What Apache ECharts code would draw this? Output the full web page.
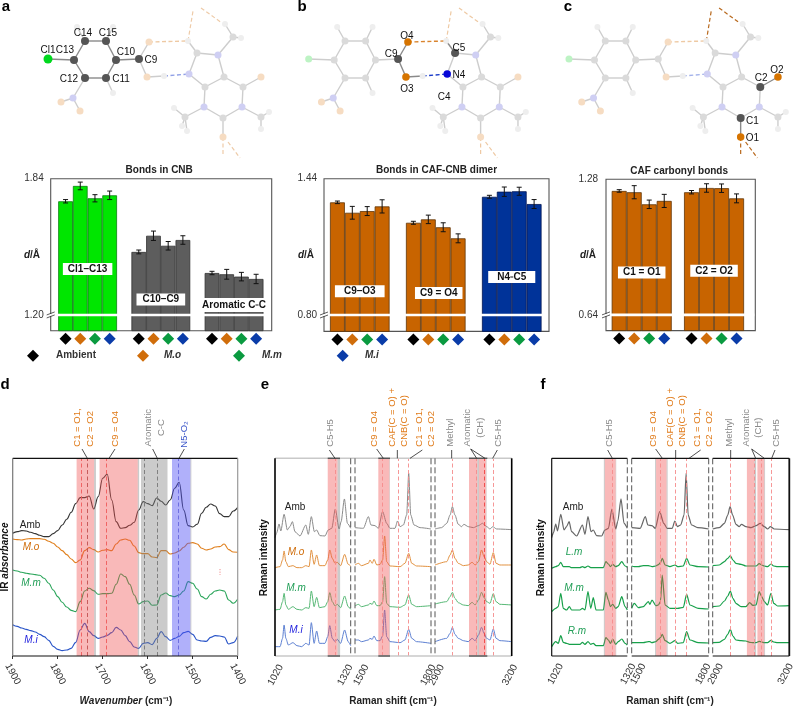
<!DOCTYPE html>
<html><head><meta charset="utf-8">
<style>html,body{margin:0;padding:0;background:#fff}#c{width:794px;height:707px}</style>
<script src="https://cdn.jsdelivr.net/npm/echarts@6/dist/echarts.min.js"></script>
</head><body><div id="c"></div>
<script>
// ---------- bar data (bond length, Å) ----------
const samples = ['Ambient','M.o','M.m','M.i'];
const cl1c13 = [1.734,1.806,1.748,1.762], cl1c13Err = [.008,.018,.017,.020];
const c10c9  = [1.496,1.572,1.525,1.552], c10c9Err  = [.009,.022,.020,.020];
const aroCC  = [1.397,1.391,1.380,1.369], aroCCErr  = [.008,.023,.020,.022];
const c9o3   = [1.329,1.280,1.288,1.310], c9o3Err   = [.006,.030,.021,.031];
const c9o4   = [1.233,1.249,1.212,1.160], c9o4Err   = [.007,.020,.021,.021];
const n4c5   = [1.355,1.379,1.381,1.321], n4c5Err   = [.007,.022,.019,.021];
const c1o1   = [1.225,1.219,1.162,1.178], c1o1Err   = [.006,.031,.020,.031];
const c2o2   = [1.219,1.239,1.238,1.190], c2o2Err   = [.008,.020,.020,.021];

// ---------- IR (panel d): wavenumber 1900..1400 in steps of 10 ----------
const irAmb = [368,373,376,375,371,367,362,358,358,367,376,393,410,431,457,475,475,480,441,478,533,545,468,403,383,385,392,401,438,463,457,451,474,464,453,468,503,521,438,391,387,395,428,446,456,450,427,418,418,435,446];
const irMo  = [351,349,348,351,352,352,352,350,344,338,327,316,304,291,280,288,316,325,319,312,317,319,316,336,348,351,347,330,310,307,307,297,295,316,316,306,309,315,326,338,340,336,323,318,321,327,328,336,319,312,311];
const irMm  = [258,255,251,248,246,244,242,233,218,198,178,161,147,137,133,163,195,203,196,185,187,187,188,215,246,238,215,183,156,163,165,152,153,183,189,181,178,183,195,223,218,201,178,171,185,195,198,195,168,158,171];
const irMi  = [94,89,84,80,76,72,65,58,47,29,20,16,18,23,41,78,98,73,61,53,57,62,70,86,78,61,43,27,23,38,40,34,53,73,58,47,53,59,70,74,65,48,45,44,56,61,60,57,36,40,60];

// ---------- Raman: shift positions and intensities ----------
const ambX1 = [1020,1027,1036,1043,1056,1069,1079,1089,1099,1119,1142,1152,1164,1176,1185,1198,1218,1231,1245,1259,1274,1282,1295,1307,1320];
const ambY1 = [355,370,396,375,425,378,388,403,373,360,393,365,418,373,378,361,360,378,383,441,381,403,471,398,383];
const ambX2 = [1500,1533,1553,1563,1579,1592,1609,1625,1638,1658,1668,1678,1691,1704,1712,1720,1733,1757,1800];
const ambY2 = [385,383,418,393,391,383,433,398,383,383,405,388,393,423,548,423,393,385,381];
const ambX3 = [2900,2926,2946,2959,2968,2978,2991,3004,3013,3030,3050,3070,3086,3102,3115,3126,3141,3200];
const ambY3 = [381,385,398,423,448,423,395,388,395,388,385,391,398,388,381,388,381,379];

const eX1 = [1020,1040,1050,1056,1063,1073,1091,1107,1126,1142,1155,1164,1175,1185,1196,1218,1229,1237,1247,1258,1267,1280,1296,1310,1320];
const eMo1 = [265,268,288,315,283,268,271,265,265,271,268,318,275,303,271,271,288,318,293,278,281,271,305,275,270];
const eMm1 = [138,140,163,188,153,140,148,140,138,145,143,195,148,176,145,148,163,190,163,150,155,145,180,148,140];
const eMi1 = [28,28,53,93,53,33,40,31,28,38,33,100,38,75,38,38,58,91,53,43,50,38,78,43,31];
const eX2 = [1500,1513,1526,1553,1559,1568,1575,1586,1599,1609,1617,1625,1638,1678,1697,1712,1724,1743,1800];
const eMo2 = [273,278,271,278,288,278,290,273,275,288,360,283,270,268,278,308,278,270,268];
const eMm2 = [150,155,148,153,158,155,165,151,151,163,238,158,148,146,153,183,155,148,151];
const eMi2 = [48,48,43,48,53,50,60,46,46,60,138,58,43,40,48,80,53,43,38];
const eX3 = [2900,2946,2959,2968,2978,2991,3011,3030,3045,3057,3070,3082,3092,3102,3115,3128,3139,3154,3200];
const eMo3 = [273,283,303,318,293,278,271,273,281,273,283,318,298,283,275,310,278,273,273];
const eMm3 = [156,163,178,191,173,160,153,151,161,153,168,191,175,163,158,187,163,155,153];
const eMi3 = [43,53,68,86,65,53,46,43,53,46,63,86,68,53,48,81,53,46,43];

const fX1 = [1020,1036,1046,1056,1066,1079,1090,1099,1132,1142,1152,1164,1175,1185,1196,1225,1235,1245,1253,1262,1274,1284,1298,1311,1320];
const fLm1 = [263,268,271,281,268,268,268,265,265,268,265,270,265,265,265,265,283,276,268,275,268,271,283,270,266];
const fMm1 = [133,143,148,188,143,138,148,138,138,143,138,193,143,175,138,138,191,168,148,155,143,148,178,148,138];
const fRm1 = [28,43,38,61,41,38,35,35,35,41,35,43,35,38,31,31,55,48,38,51,35,43,51,38,33];
const fX2 = [1500,1510,1526,1545,1565,1571,1579,1594,1604,1612,1619,1630,1649,1669,1679,1701,1714,1727,1760,1800];
const fLm2 = [270,268,268,271,271,270,268,270,274,280,293,273,268,273,268,270,293,273,268,267];
const fMm2 = [143,158,145,148,163,155,168,151,153,163,243,153,143,143,143,146,185,153,143,141];
const fRm2 = [40,40,40,40,43,43,40,43,50,55,65,46,38,46,38,40,73,48,40,39];
const fX3 = [2900,2926,2946,2959,2969,2979,2991,3011,3030,3045,3057,3070,3082,3092,3102,3115,3128,3139,3154,3200];
const fLm3 = [271,273,283,293,301,288,278,275,270,270,270,270,277,273,270,268,276,270,268,268];
const fMm3 = [148,150,165,180,195,173,158,148,148,160,152,153,193,178,163,153,188,158,150,151];
const fRm3 = [40,41,50,65,80,60,48,46,45,41,40,40,44,42,40,40,47,42,40,40];

// ---------- molecule (local drawing units) ----------
const atoms = {
 Cl1:[48,59,'Cl'],C13:[74,60,'C'],C14:[85,41,'C'],C15:[106,41,'C'],C10:[116,60,'C'],C11:[106,78,'C'],C12:[85,78,'C'],
 H14:[77,27,'H'],H15:[113,27,'H'],H11:[113,93,'H'],Nn:[73,98,'N'],On1:[61,102,'O'],On2:[80,111,'O'],
 C9:[139,59,'C'],O4:[149,42,'O'],O3:[147,77,'O'],H3:[164,76,'H'],
 C5:[197,53,'C'],H5:[188,41,'H'],N7:[218,55,'N'],C8:[224,77,'C'],N4:[189,74,'N'],C4:[205,87,'C'],C2:[243,87,'C'],O2:[261,77,'O'],
 N3:[204,107,'N'],N1:[242,107,'N'],C1:[223,118,'C'],O1:[223,137,'O'],
 Me1:[233,37,'C'],H1a:[225,24,'H'],H1b:[241,38,'H'],Me2:[185,117,'C'],H2a:[174,108,'H'],H2b:[182,126,'H'],H2c:[187,131,'H'],
 Me3:[261,117,'C'],H3a:[269,112,'H'],H3b:[261,129,'H']
};
const bonds = ['Cl1-C13','C13-C14','C14-C15','C15-C10','C10-C11','C11-C12','C12-C13','C14-H14','C15-H15','C11-H11','C12-Nn','Nn-On1','Nn-On2','C10-C9','C9-O4','C9-O3','O3-H3',
 'C5-H5','C5-N7','N7-C8','C8-C4','C4-N4','N4-C5','C8-C2','C2-O2','C2-N1','N1-C1','C1-N3','N3-C4','C1-O1','N7-Me1','Me1-H1a','Me1-H1b','N3-Me2','Me2-H2a','Me2-H2b','Me2-H2c','N1-Me3','Me3-H3a','Me3-H3b'];
const tailTop = [[188,41,193,11],[201,8,222,23]];
const tailBottom = [[223,137,223,156],[228,142,240,158]];
const panelsMol = {
 a:{lit:['Cl1','C13','C14','C15','C10','C11','C12','C9'],
    litBonds:['C13-C14','C14-C15','C15-C10','C10-C11','C11-C12','C12-C13','C10-C9','Cl1-C13'],
    labels:[['Cl1',48,50],['C13',65,50],['C14',83,33],['C15',108,33],['C10',126,52],['C9',151,60],['C12',69,79],['C11',121,79]],
    hb:'#eec9a3',hn:'#8f9fe6',tail:'#eecba8'},
 b:{lit:['C9','O3','O4','N4','C5'],
    litBonds:['C9-O3','C9-O4','C5-N4','O3-H3','C5-H5'],
    labels:[['O4',148,36],['C9',132,54],['C5',201,48],['N4',201,75],['O3',148,89],['C4',186,97]],
    hb:'#d9842e',hn:'#1638c8',tail:'#eec9a3'},
 c:{lit:['C1','O1','C2','O2'],litBonds:['C1-O1','C2-O2'],
    labels:[['O2',260,70],['C2',244,78],['C1',235,121],['O1',235,138]],
    hb:'#eec9a3',hn:'#a3b2ea',tail:'#b8691d'}
};
const litColor = {C:'#555',O:'#d67400',N:'#0808d8',Cl:'#00d81e',H:'#cfcfcf'};
const dimColor = {C:'#dadada',O:'#f6dcc2',N:'#cfcff3',Cl:'#bdf3c4',H:'#eeeeee'};

// ---------- helpers ----------
const FONT = '"Liberation Sans",Arial,sans-serif';
const COL = {amb:'#000',o:'#d06d0a',m:'#0a9a40',i:'#0a3ca8'};
const DIA = [COL.amb,COL.o,COL.m,COL.i];
const grids=[],xAxes=[],yAxes=[],series=[],graphics=[],titles=[];
function addGrid(g,x,y){grids.push(g);x.gridIndex=grids.length-1;y.gridIndex=grids.length-1;xAxes.push(x);yAxes.push(y);return grids.length-1;}
const seriesRef=i=>({xAxisIndex:i,yAxisIndex:i});
const CLEAR='rgba(0,0,0,0)';

// molecules
function drawMolecule(key,left,scale){
 const p=panelsMol[key];
 const i=addGrid({left,top:0,width:270*scale,height:160,containLabel:false},
   {type:'value',min:0,max:270,show:false},{type:'value',min:0,max:160,inverse:true,show:false});
 const bondData=bonds.map(b=>{const [u,v]=b.split('-');return [atoms[u][0],atoms[u][1],atoms[v][0],atoms[v][1],p.litBonds.includes(b)?1:0];});
 series.push({type:'custom',...seriesRef(i),silent:true,clip:false,z:2,data:bondData,renderItem:(_,api)=>{
   const a=api.coord([api.value(0),api.value(1)]),b=api.coord([api.value(2),api.value(3)]);
   return {type:'line',shape:{x1:a[0],y1:a[1],x2:b[0],y2:b[1]},style:{stroke:api.value(4)?'#8a8a8a':'#cdcdcd',lineWidth:1.4}};
 }});
 const dashed=[[...tailTop[0],p.tail,1.2],[...tailTop[1],p.tail,1.2],[...tailBottom[0],p.tail,1.2],[...tailBottom[1],p.tail,1.2],
   [149,42,188,41,p.hb,1.4],[164,76,189,74,p.hn,1.4]];
 series.push({type:'custom',...seriesRef(i),silent:true,clip:false,z:2,data:dashed,
   encode:{x:0,y:1},renderItem:(_,api)=>{
   const a=api.coord([api.value(0),api.value(1)]),b=api.coord([api.value(2),api.value(3)]);
   const d=dashed[_.dataIndex];
   return {type:'line',shape:{x1:a[0],y1:a[1],x2:b[0],y2:b[1]},style:{stroke:d[4],lineWidth:d[5],lineDash:[4,2.5]}};
 }});
 const atomData=Object.keys(atoms).map(n=>{const a=atoms[n],lit=p.lit.includes(n);
   const size=lit?(a[2]==='C'?8:(a[2]==='Cl'?9:7.5)):(a[2]==='H'?6:7);
   return {value:[a[0],a[1]],symbolSize:size,itemStyle:{color:lit?litColor[a[2]]:dimColor[a[2]],opacity:1}};});
 series.push({type:'scatter',...seriesRef(i),silent:true,clip:false,z:3,data:atomData});
 series.push({type:'scatter',...seriesRef(i),silent:true,clip:false,z:4,symbolSize:1,itemStyle:{color:CLEAR,opacity:1},
   data:p.labels.map(l=>({value:[l[1],l[2]],label:{show:true,position:'inside',formatter:l[0],color:'#111',fontSize:10,fontFamily:FONT}}))});
}
drawMolecule('a',0,1);
drawMolecule('b',261.5,0.9826);
drawMolecule('c',521.9,0.981);

// bars
function drawBars(cfg){
 const i=addGrid({left:cfg.left,top:cfg.top,width:cfg.width,height:cfg.height,show:true,borderColor:'#555',borderWidth:1.1,backgroundColor:'transparent'},
   {type:'value',min:0,max:cfg.W,show:false},
   {type:'value',min:cfg.min,max:cfg.max,axisLine:{show:false},axisTick:{show:false},splitLine:{show:false},
    axisLabel:{customValues:[cfg.brk,cfg.max],formatter:v=>v.toFixed(2),color:'#333',fontSize:10,fontFamily:FONT,margin:cfg.margin||7}});
 const bw=cfg.width/cfg.W, bars=[],errs=[],dias=[],labs=[];
 cfg.groups.forEach((g,gi)=>{
   g.vals.forEach((v,k)=>{
     const x=cfg.start+gi*cfg.pitch+k+0.5;
     bars.push({value:[x,v],itemStyle:{color:g.fill,borderColor:g.edge,borderWidth:0.8}});
     errs.push([x,v,g.errs[k]]);
     dias.push({value:[x,cfg.min-8*(cfg.max-cfg.min)/cfg.height],itemStyle:{color:DIA[k],opacity:1}});
   });
   labs.push({value:[cfg.start+gi*cfg.pitch+2+(g.dx||0),g.labelAt],label:{show:true,position:'inside',formatter:g.label,opacity:1,
     backgroundColor:'#fff',padding:g.pad||[1,5,1,5],color:'#111',fontWeight:'bold',fontSize:g.fs||10,fontFamily:FONT,
     rich:{s:{fontSize:6,fontWeight:'bold',color:'#111',fontFamily:FONT}}}});
 });
 series.push({type:'bar',...seriesRef(i),barWidth:bw,data:bars,silent:true,z:2,animation:false});
 series.push({type:'custom',...seriesRef(i),silent:true,z:3,clip:false,data:errs,encode:{x:0,y:1},renderItem:(_,api)=>{
   const x=api.value(0),v=api.value(1),e=api.value(2);
   const a=api.coord([x,v+e]),b=api.coord([x,v-e]);
   const line=(x1,y1,x2,y2)=>({type:'line',shape:{x1,y1,x2,y2},style:{stroke:'#111',lineWidth:1}});
   return {type:'group',children:[line(a[0],a[1],b[0],b[1]),line(a[0]-2.5,a[1],a[0]+2.5,a[1]),line(b[0]-2.5,b[1],b[0]+2.5,b[1])]};
 }});
 series.push({type:'custom',...seriesRef(i),silent:true,z:4,clip:false,data:[[0,cfg.brk,cfg.W]],encode:{x:0,y:1},renderItem:(_,api)=>{
   const a=api.coord([0,api.value(1)]),b=api.coord([api.value(2),api.value(1)]);
   return {type:'group',children:[
     {type:'rect',shape:{x:a[0]+1,y:a[1]-1.3,width:b[0]-a[0]-2,height:2.6},style:{fill:'#fff'}},
     {type:'rect',shape:{x:a[0]-1,y:a[1]-1,width:2,height:2},style:{fill:'#fff'}},
     {type:'line',shape:{x1:a[0]-4,y1:a[1],x2:a[0]+4,y2:a[1]-3},style:{stroke:'#333',lineWidth:0.8}},
     {type:'line',shape:{x1:a[0]-4,y1:a[1]+3,x2:a[0]+4,y2:a[1]},style:{stroke:'#333',lineWidth:0.8}}]};
 }});
 series.push({type:'scatter',...seriesRef(i),silent:true,clip:false,z:4,symbol:'diamond',symbolSize:12,data:dias});
 series.push({type:'scatter',...seriesRef(i),silent:true,clip:false,z:5,symbolSize:1,itemStyle:{color:CLEAR,opacity:1},data:labs});
 titles.push({text:cfg.title,left:cfg.left+cfg.width/2+(cfg.tdx||0),top:cfg.top-14,textAlign:'center',padding:0,
   textStyle:{fontSize:10,fontWeight:'bold',color:'#222',fontFamily:FONT,lineHeight:11}});
}
const GREEN={fill:'#00e600',edge:'#0b7d12'},GRAY={fill:'#5d5d5d',edge:'#333'},ORA={fill:'#c86400',edge:'#5f3508'},BLU={fill:'#003399',edge:'#001450'};
drawBars({title:'Bonds in CNB',left:50.7,top:178.7,width:221,height:152,W:15.03,start:.51,pitch:4.98,min:1.126,max:1.84,brk:1.20,tdx:-2,
  groups:[{...GREEN,vals:cl1c13,errs:cl1c13Err,label:'Cl1–C13',labelAt:1.416},
          {...GRAY,vals:c10c9,errs:c10c9Err,label:'C10–C9',labelAt:1.272,pad:[1,6,1,6]},
          {...GRAY,vals:aroCC,errs:aroCCErr,label:'Aromatic C{s|=}C',labelAt:1.247,pad:[2,0,2,0]}]});
drawBars({title:'Bonds in CAF-CNB dimer',left:324,top:178.7,width:225,height:152.7,W:15.1,start:.4,pitch:5.1,min:.723,max:1.44,brk:.80,tdx:0,
  groups:[{...ORA,vals:c9o3,errs:c9o3Err,label:'C9–O3',labelAt:.911,pad:[1,9,1,9]},
          {...ORA,vals:c9o4,errs:c9o4Err,label:'C9 = O4',labelAt:.903,dx:.2},
          {...BLU,vals:n4c5,errs:n4c5Err,label:'N4{s|=}C5',labelAt:.978,pad:[1,9,1,9]}]});
drawBars({title:'CAF carbonyl bonds',left:606,top:179.3,width:149.3,height:151.3,W:9.95,start:.38,pitch:4.82,min:.566,max:1.28,brk:.64,margin:8,tdx:-1.5,
  groups:[{...ORA,vals:c1o1,errs:c1o1Err,label:'C1 = O1',labelAt:.84},
          {...ORA,vals:c2o2,errs:c2o2Err,label:'C2 = O2',labelAt:.848}]});

// spectra
const SP_TOP=458.3,SP_H=197.7,RED='rgba(240,80,80,0.4)',GRY='rgba(130,130,130,0.42)',BLUEB='rgba(80,80,245,0.45)';
function specGrid(left,width,min,max,labels,opts={}){
 const i=addGrid({left,top:SP_TOP,width,height:SP_H},
   {type:'value',min,max,inverse:!!opts.inverse,splitLine:{show:false},
    axisLine:{show:false},axisTick:{show:!!opts.ticks,length:3,lineStyle:{color:'#333'},customValues:labels},
    axisLabel:{show:!!opts.rotate,customValues:labels,rotate:opts.rotate,color:'#333',fontSize:10,fontFamily:FONT,margin:opts.margin||17,align:'center',verticalAlign:'middle',
      showMinLabel:true,showMaxLabel:true,hideOverlap:false,formatter:v=>String(v)}},
   {type:'value',min:0,max:593,show:false});
 (opts.lines||[]).forEach(l=>series.push({type:'line',...seriesRef(i),data:l.x.map((x,k)=>[x,l.y[k]]),showSymbol:false,silent:true,
    smooth:opts.smooth??0.25,smoothMonotone:'x',z:2,lineStyle:{color:l.color,width:l.w||1},animation:false}));
 series.push({type:'line',...seriesRef(i),data:[],z:3,silent:true,showSymbol:false,
   markArea:{silent:true,z:3,data:(opts.bands||[]).map(b=>[{xAxis:b[0],itemStyle:{color:b[2]}},{xAxis:b[1]}])},
   markLine:{silent:true,symbol:'none',z:4,animation:false,label:{show:false},
     data:(opts.marks||[]).map(m=>({xAxis:m[0],lineStyle:{color:m[1],type:[4,2.5],width:.9,opacity:1}}))}});
}
const IRX=irAmb.map((_,k)=>1900-k*10);
specGrid(12.7,225,1400,1900,[1900,1800,1700,1600,1500,1400],{inverse:true,rotate:-62,ticks:true,margin:18,smooth:.4,
  lines:[{x:IRX,y:irAmb,color:'#333',w:1.1},{x:IRX,y:irMo,color:'#e0801e',w:1.1},{x:IRX,y:irMm,color:'#2aa55a',w:1.1},{x:IRX,y:irMi,color:'#2a55c8',w:1.1}],
  bands:[[1719,1758,RED],[1715,1719,GRY],[1622,1707,RED],[1619,1622,GRY],[1556,1615,GRY],[1505,1546,BLUEB],[1503,1505,GRY]],
  marks:[[1748,'#ee5a5a'],[1734,'#c05050'],[1692,'#ee5a5a'],[1607,'#777'],[1578,'#777'],[1532,'#6666dd']]});

const eLines=[
 [{x:ambX1,y:ambY1,color:'#8a8a8a'},{x:eX1,y:eMo1,color:'#e2913f'},{x:eX1,y:eMm1,color:'#55b874'},{x:eX1,y:eMi1,color:'#5c7fd2'}],
 [{x:ambX2,y:ambY2,color:'#8a8a8a'},{x:eX2,y:eMo2,color:'#e2913f'},{x:eX2,y:eMm2,color:'#55b874'},{x:eX2,y:eMi2,color:'#5c7fd2'}],
 [{x:ambX3,y:ambY3,color:'#8a8a8a'},{x:eX3,y:eMo3,color:'#e2913f'},{x:eX3,y:eMm3,color:'#55b874'},{x:eX3,y:eMi3,color:'#5c7fd2'}]];
const PINK='#f58b8b';
specGrid(275,75.7,1020,1320,[1020,1320],{lines:eLines[0],bands:[[1229,1268,RED],[1268,1278,GRY]],marks:[[1259,PINK]]});
specGrid(355,76,1500,1800,[1500,1800],{lines:eLines[1],bands:[[1592,1636,RED],[1636,1638,GRY]],marks:[[1609,PINK],[1671,PINK],[1712,PINK]]});
specGrid(435,76.7,2900,3200,[2900,3200],{lines:eLines[2],bands:[[3033,3066,RED],[3066,3072,GRY],[3072,3100,RED],[3100,3102,GRY]],marks:[[2968,PINK],[3063,PINK],[3094,'#ee4444'],[3126,PINK]]});

const fLines=[
 [{x:ambX1,y:ambY1,color:'#666',w:1.2},{x:fX1,y:fLm1,color:'#17a04a',w:1.2},{x:fX1,y:fMm1,color:'#17a04a',w:1.2},{x:fX1,y:fRm1,color:'#17a04a',w:1.2}],
 [{x:ambX2,y:ambY2,color:'#666',w:1.2},{x:fX2,y:fLm2,color:'#17a04a',w:1.2},{x:fX2,y:fMm2,color:'#17a04a',w:1.2},{x:fX2,y:fRm2,color:'#17a04a',w:1.2}],
 [{x:ambX3,y:ambY3,color:'#666',w:1.2},{x:fX3,y:fLm3,color:'#17a04a',w:1.2},{x:fX3,y:fMm3,color:'#17a04a',w:1.2},{x:fX3,y:fRm3,color:'#17a04a',w:1.2}]];
specGrid(551.7,75.6,1020,1320,[1020,1320],{lines:fLines[0],bands:[[1227,1231,GRY],[1231,1274,RED],[1274,1276,GRY]],marks:[[1260,PINK]]});
specGrid(631.7,77,1500,1800,[1500,1800],{lines:fLines[1],bands:[[1591,1595,GRY],[1595,1636,RED],[1636,1640,GRY]],marks:[[1612,PINK],[1669,PINK],[1714,PINK]]});
specGrid(712.7,76.6,2900,3200,[2900,3200],{lines:fLines[2],bands:[[3034,3063,RED],[3063,3070,GRY],[3075,3102,RED],[3102,3105,GRY]],marks:[[2969,PINK],[3063,PINK],[3092,PINK],[3128,PINK]]});

// ---------- decoration: text, frames, leaders ----------
function txt(s,x,y,o={}){graphics.push({type:'text',x,y,rotation:o.rot||0,z:50,silent:true,style:{text:s,fill:o.c||'#222',
  font:`${o.i?'italic ':''}${o.b?'bold ':''}${o.fs||10}px ${FONT}`,textAlign:o.a||'center',textVerticalAlign:o.v||'middle',rich:o.rich}});}
function seg(x1,y1,x2,y2,c,w,dash){graphics.push({type:'line',z:40,silent:true,shape:{x1,y1,x2,y2},style:{stroke:c,lineWidth:w,lineDash:dash||null}});}
function dia(x,y,c,r=6){graphics.push({type:'polygon',z:40,silent:true,shape:{points:[[x,y-r],[x+r,y],[x,y+r],[x-r,y]]},style:{fill:c}});}
[['a',6,7],['b',302,7],['c',568,7],['d',5,385],['e',265,385],['f',543,385]].forEach(p=>txt(p[0],p[1],p[2],{b:1,fs:15,c:'#000'}));

// legend row
const legY=355.7;
[[33,COL.amb,'Ambient',56,0],[143,COL.o,'M.o',164,1],[239,COL.m,'M.m',262,1],[342.7,COL.i,'M.i',365,1]].forEach(l=>{
  dia(l[0],legY,l[1]);txt(l[2],l[3],legY,{b:1,i:l[4],a:'left',c:'#333'});});

// d/Å
const dA={d:{font:`italic bold 10px ${FONT}`,fill:'#222'}};
txt('{d|d}/Å',32,255,{b:1,rich:dA});txt('{d|d}/Å',306,255,{b:1,rich:dA});txt('{d|d}/Å',588,255,{b:1,rich:dA});

// axis names
const PI2=Math.PI/2;
txt('IR {i|absorbance}',5,557,{b:1,rot:PI2,c:'#111',rich:{i:{font:`italic bold 10px ${FONT}`,fill:'#111'}}});
txt('{i|Wavenumber} (cm⁻¹)',126,701,{b:1,c:'#222',rich:{i:{font:`italic bold 10px ${FONT}`,fill:'#222'}}});
txt('Raman shift (cm⁻¹)',393,701,{b:1});txt('Raman shift (cm⁻¹)',670,701,{b:1});
txt('Raman intensity',264.5,557.7,{b:1,rot:PI2,c:'#111'});txt('Raman intensity',541.7,557.7,{b:1,rot:PI2,c:'#111'});

// series tags
txt('Amb',30,525,{c:'#222'});txt('M.o',31,547,{i:1,c:COL.o});txt('M.m',31,583,{i:1,c:'#1f9d55'});txt('M.i',31,640,{i:1,c:'#2222dd'});
txt('Amb',295,507.7,{c:'#222'});txt('M.o',296,552,{i:1,c:COL.o});txt('M.m',296,588,{i:1,c:'#1f9d55'});txt('M.i',296,630,{i:1,c:'#2222dd'});
txt('Amb',573,507.7,{c:'#222'});txt('L.m',574,552,{i:1,c:'#1f9d55'});txt('M.m',574,588,{i:1,c:'#1f9d55'});txt('R.m',577,631,{i:1,c:'#1f9d55'});

// tick labels of the broken axes in e and f (centre of each rotated label)
const ROT=Math.PI/180*62;
[[1020,47],[1320,256],[1500,304],[1800,505],[2900,530],[3200,750]].forEach(t=>txt(String(t[0]),260+t[1]/3,675,{rot:ROT,c:'#333'}));
[[1020,92],[1320,310],[1500,340],[1800,535],[2900,572],[3200,782]].forEach(t=>txt(String(t[0]),525+t[1]/3,674,{rot:ROT,c:'#333'}));
// stray dots in d
seg(220,569,220,575,'#f08a8a',1,[1.2,1.4]);

// frame d
seg(12.7,458.3,237.7,458.3,'#111',1.2);seg(12.7,656,237.7,656,'#111',1.2);
seg(12.7,458.3,12.7,656,'#777',1.2);seg(237.7,458.3,237.7,656,'#999',1.2);
// frame e
seg(275,458.3,511.7,458.3,'#c9c9c9',1.6);seg(275,656,511.7,656,'#c9c9c9',1.6);
[[327.7,340],[378.3,390],[469,487.3]].forEach(s=>{seg(s[0],458.3,s[1],458.3,'#555',1.4);seg(s[0],656,s[1],656,'#555',1.4);});
seg(275,458.3,275,656,'#000',1.6);seg(511.7,458.3,511.7,656,'#000',1.6);
[350.7,355,431,435].forEach(x=>seg(x,458.3,x,656,'#555',1,[6,3]));
// frame f
[[551.7,627.3],[631.7,708.7],[712.7,789.3]].forEach(s=>{seg(s[0],458.3,s[1],458.3,'#111',1.2);seg(s[0],656,s[1],656,'#111',1.2);});
seg(551.7,458.3,551.7,656,'#111',1.2);seg(789.3,458.3,789.3,656,'#111',1.8);
[627.3,631.7,708.7,712.7].forEach(x=>seg(x,458.3,x,656,'#555',1,[6,3]));

// peak labels: [text, x, yAnchor, centred, color]
const ORG='#e07b1a',GY='#8a8a8a',BL='#3a55c8';
function peakText(ox,list){list.forEach(l=>txt(l[0],ox+l[1]/3,375+(l[2]||215)/3,{rot:PI2,a:l[3]?'center':'left',c:l[4],fs:9.5}));}
function lead(ox,list,c){list.forEach(l=>seg(ox+l[0]/3,375+l[1]/3,ox+l[2]/3,375+l[3]/3,c||'#222',.8));}
peakText(0,[['C1 = O1,',233,215,0,ORG],['C2 = O2',272,215,0,ORG],['C9 = O4',347,215,0,ORG],['Aromatic',446,158,1,GY],['C-C',483,158,1,GY],['N5-O₂',553,218,0,BL]]);
lead(0,[[246,222,262,250],[345,222,327,250],[458,222,472,250],[553,222,537,250]]);
peakText(260,[['C5-H5',212,215,0,GY],['C9 = O4',343,215,0,ORG],['CAF(C = O) +',397,215,0,ORG],['CNB(C = O)',432,215,0,ORG],['C1 = O1,',477,215,0,ORG],['C2 = O2',513,215,0,ORG],['Methyl',572,215,0,GY],['Aromatic',622,158,1,GY],['(CH)',660,158,1,GY],['C5-H5',715,215,0,GY]]);
lead(260,[[208,225,225,250],[350,222,370,250],[412,225,412,250],[487,225,450,250],[575,225,575,250],[632,222,650,250],[632,222,675,250],[712,225,698,250]]);
peakText(525,[['C5-H5',252,215,0,GY],['C9 = O4',385,215,0,ORG],['CAF(C = O) +',437,215,0,ORG],['CNB(C = O)',472,215,0,ORG],['C1 = O1,',517,215,0,ORG],['C2 = O2',553,215,0,ORG],['Methyl',613,215,0,GY],['Aromatic',663,158,1,GY],['(CH)',700,158,1,GY],['C5-H5',755,215,0,GY]]);
lead(525,[[248,225,262,250],[392,222,412,250],[452,225,452,250],[527,225,492,250],[617,225,617,250],[680,222,692,250],[680,222,718,250],[750,225,740,250]]);

const chart=echarts.init(document.getElementById('c'),null,{renderer:'canvas',width:794,height:707});
chart.setOption({animation:false,backgroundColor:'#fff',textStyle:{fontFamily:FONT},title:titles,grid:grids,xAxis:xAxes,yAxis:yAxes,series,graphic:{elements:graphics}});
</script></body></html>
